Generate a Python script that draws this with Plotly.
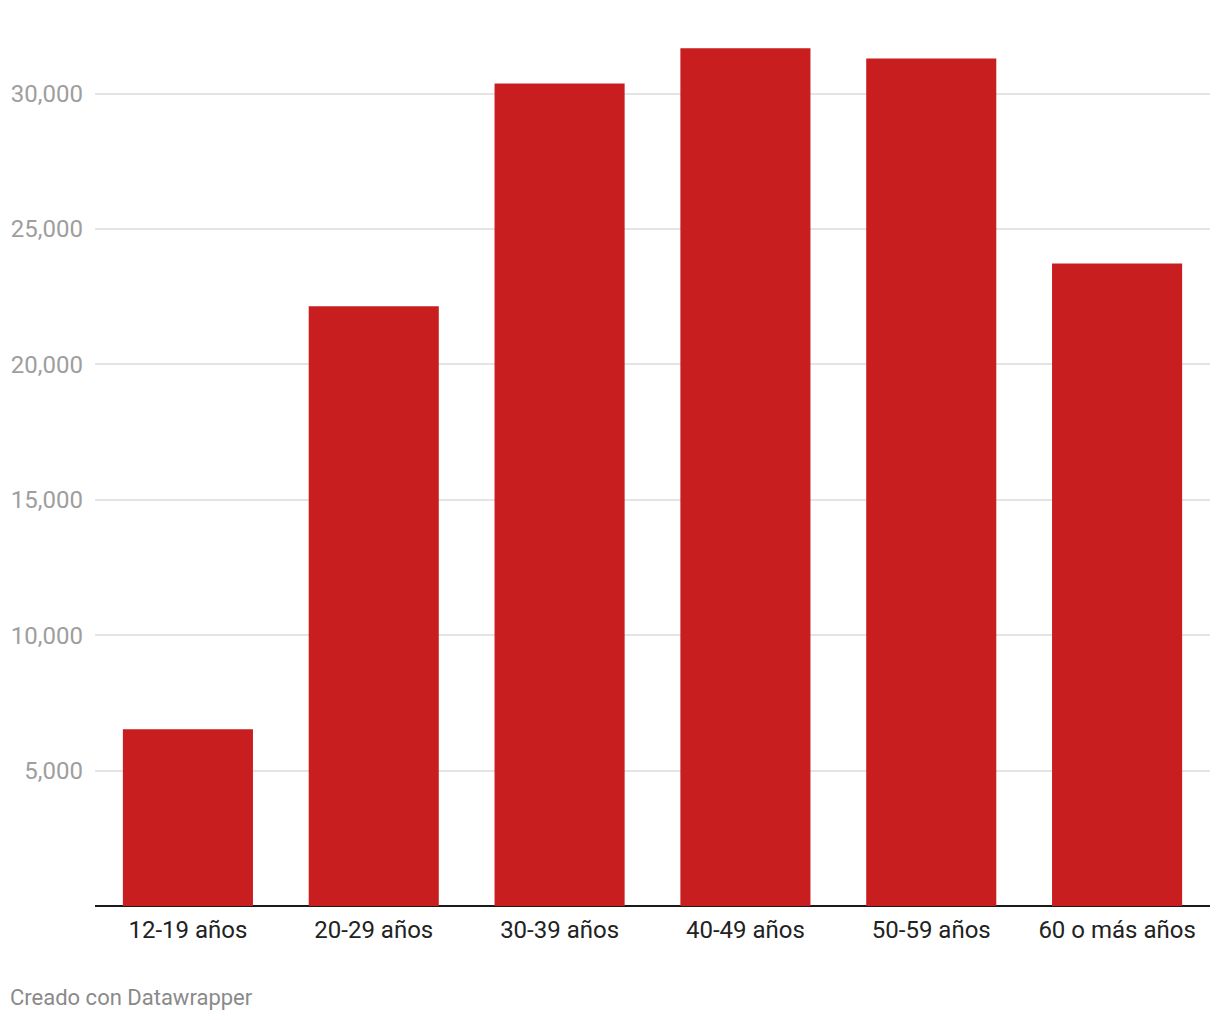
import plotly.graph_objects as go

categories = ["12-19 años", "20-29 años", "30-39 años", "40-49 años", "50-59 años", "60 o más años"]
values = [6525, 22150, 30380, 31680, 31300, 23730]
tick_vals = [5000, 10000, 15000, 20000, 25000, 30000]
tick_text = ["5,000", "10,000", "15,000", "20,000", "25,000", "30,000"]

# page body has an 8px default margin; size the figure to fill the rest
W, H = 1212, 1012
ml, mr, mt, mb = 87, 10, 18, 114

fig = go.Figure(go.Bar(
    x=categories, y=values,
    marker=dict(color="#c91e1f", line=dict(width=0)),
    hoverinfo="x+y",
))

fig.update_layout(
    width=W, height=H,
    margin=dict(l=ml, r=mr, t=mt, b=mb, pad=0, autoexpand=False),
    paper_bgcolor="white", plot_bgcolor="white",
    bargap=0.30,
    font=dict(family="Roboto, sans-serif"),
    showlegend=False,
)
fig.update_yaxes(
    automargin=False,
    range=[0, 32500],
    tickvals=tick_vals, ticktext=tick_text,
    showgrid=True, gridcolor="#e4e4e4", gridwidth=1.5,
    zeroline=True, zerolinecolor="#1a1a1a", zerolinewidth=2,
    showline=False, ticks="", ticklabelstandoff=11,
    tickfont=dict(size=24, color="#9e9e9e", family="Roboto, sans-serif"),
)
fig.update_xaxes(
    automargin=False,
    showgrid=False, showline=False, ticks="",
    ticklabelstandoff=7,
    tickfont=dict(size=24, color="#222222", family="Roboto, sans-serif"),
)
fig.add_annotation(
    text="Creado con Datawrapper",
    xref="paper", yref="paper",
    x=(0 - ml) / (W - ml - mr), y=-(989 - (H - mb)) / (H - mt - mb),
    xanchor="left", yanchor="middle", showarrow=False,
    font=dict(size=22, color="#8a8a8a", family="Roboto, sans-serif"),
)
fig.write_html("out.html")
